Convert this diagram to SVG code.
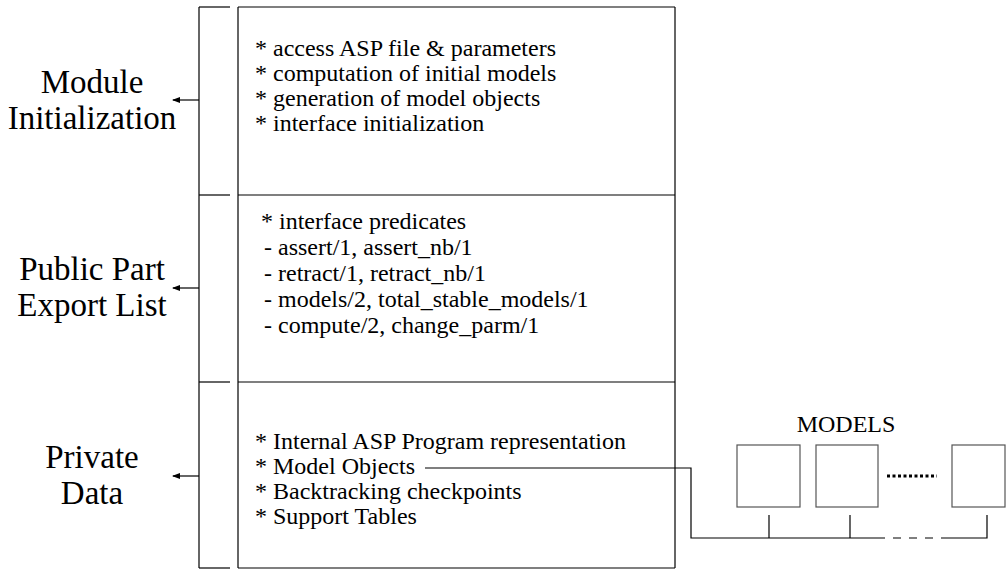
<svg xmlns="http://www.w3.org/2000/svg" width="1006" height="570" viewBox="0 0 1006 570">
<style>
text{font-family:'Liberation Serif','Times New Roman',serif;fill:#000}
.lbl{font-size:33px;text-anchor:middle}
.txt{font-size:24px}
.mt{font-size:24px;text-anchor:middle}
.v{stroke:#666;stroke-width:2;fill:none}
.h{stroke:#000;stroke-width:1.2;fill:none}
.c{stroke:#000;stroke-width:1.2;fill:none}
.box{fill:#fff;stroke:#555;stroke-width:1.2}
</style>
<defs>
<marker id="ah" markerWidth="8" markerHeight="6" refX="7" refY="3" orient="auto" markerUnits="userSpaceOnUse">
<path d="M0,0 L8,3 L0,6 Z" fill="#000"/>
</marker>
</defs>
<g id="bracket">
<line class="v" x1="199" y1="7" x2="199" y2="568"/>
<line class="h" x1="199" y1="7" x2="230" y2="7"/>
<line class="h" x1="199" y1="195" x2="230" y2="195"/>
<line class="h" x1="199" y1="382" x2="230" y2="382"/>
<line class="h" x1="199" y1="568" x2="230" y2="568"/>
</g>
<g id="module-box">
<line class="v" x1="238" y1="7" x2="238" y2="568"/>
<line class="v" x1="675" y1="7" x2="675" y2="568"/>
<line class="h" x1="238" y1="7" x2="675" y2="7"/>
<line class="h" x1="238" y1="195" x2="675" y2="195"/>
<line class="h" x1="238" y1="382" x2="675" y2="382"/>
<line class="h" x1="238" y1="568" x2="675" y2="568"/>
</g>
<g id="init-section">
<text class="txt" x="255" y="56">* access ASP file &amp; parameters</text>
<text class="txt" x="255" y="81">* computation of initial models</text>
<text class="txt" x="255" y="106">* generation of model objects</text>
<text class="txt" x="255" y="131">* interface initialization</text>
</g>
<g id="public-section">
<text class="txt" x="261" y="229">* interface predicates</text>
<text class="txt" x="264" y="255">- assert/1, assert_nb/1</text>
<text class="txt" x="264" y="281">- retract/1, retract_nb/1</text>
<text class="txt" x="264" y="307">- models/2, total_stable_models/1</text>
<text class="txt" x="264" y="333">- compute/2, change_parm/1</text>
</g>
<g id="private-section">
<text class="txt" x="255" y="449">* Internal ASP Program representation</text>
<text class="txt" x="255" y="474">* Model Objects</text>
<text class="txt" x="255" y="499">* Backtracking checkpoints</text>
<text class="txt" x="255" y="524">* Support Tables</text>
</g>
<g id="label-init">
<text class="lbl" x="92" y="93">Module</text>
<text class="lbl" x="92" y="129">Initialization</text>
</g>
<g id="label-public">
<text class="lbl" x="92" y="280">Public Part</text>
<text class="lbl" x="92" y="316">Export List</text>
</g>
<g id="label-private">
<text class="lbl" x="92" y="468">Private</text>
<text class="lbl" x="92" y="504">Data</text>
</g>
<g id="models">
<text class="mt" x="846" y="432">MODELS</text>
<rect id="model1" class="box" x="737" y="445" width="63" height="62"/>
<rect id="model2" class="box" x="816" y="445" width="62" height="62"/>
<rect id="model3" class="box" x="952" y="445" width="53" height="62"/>
<line x1="887" y1="476" x2="937" y2="476" stroke="#000" stroke-width="3" stroke-dasharray="3,2.5"/>
</g>
<g id="connectors">
<line class="c" x1="199" y1="100" x2="173" y2="100" marker-end="url(#ah)"/>
<line class="c" x1="199" y1="288" x2="173" y2="288" marker-end="url(#ah)"/>
<line class="c" x1="199" y1="476" x2="173" y2="476" marker-end="url(#ah)"/>
<polyline class="c" points="425,468 691,468 691,538 877,538"/>
<line class="c" x1="877" y1="538" x2="945" y2="538" stroke-dasharray="8,8"/>
<polyline class="c" points="945,538 987,538 987,515"/>
<line class="c" x1="769" y1="515" x2="769" y2="538"/>
<line class="c" x1="850" y1="515" x2="850" y2="538"/>
</g>
</svg>
